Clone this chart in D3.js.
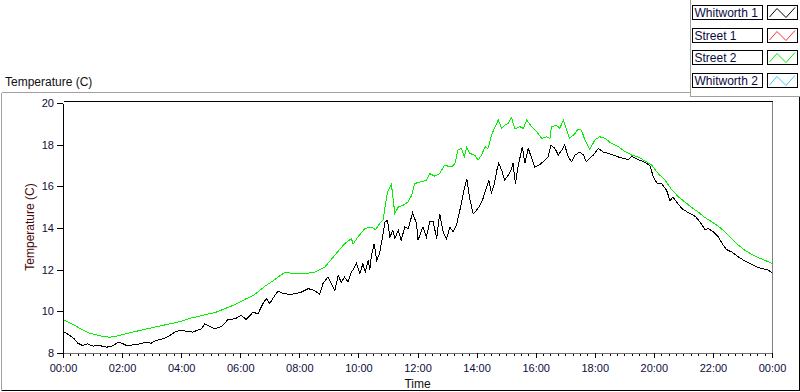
<!DOCTYPE html>
<html>
<head>
<meta charset="utf-8">
<script src="https://cdn.jsdelivr.net/npm/d3@7"></script>
<style>
  html, body { margin: 0; padding: 0; background: #fff; }
  svg { display: block; font-family: "Liberation Sans", Arial, sans-serif; }
</style>
</head>
<body>
<svg id="chart" width="800" height="392"></svg>
<script>
// ---- data (minutes after midnight, temperature in C) ----
const seriesNames = ["Whitworth 1", "Street 1", "Street 2", "Whitworth 2"];
const seriesColors = ["#000000", "#ff3030", "#00f000", "#40c8ff"];

const whitworth1Time = [0,7,17,23,30,40,50,61,74,88,98,105,113,122,132,142,156,169,179,189,203,217,227,237,250,264,274,281,288,298,308,322,335,349,362,372,386,396,406,413,420,430,437,447,464,484,498,511,521,528,538,545,552,559,565,572,579,584,589,596,603,609,614,620,623,626,632,637,643,650,654,659,664,670,674,681,687,694,701,710,718,721,731,738,745,752,759,765,772,779,786,792,799,806,813,820,826,833,840,847,853,858,865,870,876,881,885,891,897,904,910,914,919,924,933,938,945,952,958,969,975,985,991,999,1006,1013,1019,1026,1033,1040,1050,1057,1063,1070,1077,1087,1097,1107,1118,1128,1138,1148,1155,1168,1179,1185,1192,1199,1206,1216,1226,1233,1239,1246,1257,1270,1284,1294,1304,1311,1321,1331,1341,1348,1358,1372,1385,1399,1412,1422,1433,1440];
const whitworth1Temp = [9.00,8.95,8.79,8.68,8.47,8.36,8.44,8.33,8.36,8.28,8.31,8.41,8.52,8.44,8.33,8.39,8.44,8.52,8.47,8.60,8.68,8.84,9.00,9.08,9.05,9.00,9.11,9.16,9.40,9.27,9.16,9.27,9.60,9.64,9.80,9.61,9.96,9.88,10.37,10.61,10.37,10.76,10.97,10.85,10.81,10.92,11.09,11.00,10.81,11.33,11.64,11.33,11.00,11.73,11.40,11.64,11.40,11.80,12.00,12.29,11.81,12.29,11.88,12.45,11.97,12.61,13.25,12.45,12.77,13.73,14.29,14.37,13.57,13.89,13.49,13.89,13.41,14.05,13.97,14.72,14.21,13.41,14.05,13.57,14.29,14.29,13.49,14.69,13.81,13.49,14.05,13.81,14.13,14.85,15.65,16.37,15.41,14.69,14.85,15.09,15.41,15.81,16.30,15.70,16.10,16.77,17.10,16.77,16.29,16.53,16.77,17.10,16.13,16.93,17.90,17.10,17.82,17.34,16.93,17.05,17.18,17.41,17.98,17.82,17.50,17.74,17.98,17.41,17.18,17.50,17.65,17.50,17.18,17.34,17.50,17.82,17.65,17.58,17.50,17.41,17.34,17.28,17.43,17.29,17.18,17.10,17.01,16.45,16.16,16.13,15.81,15.30,15.49,15.25,14.93,14.74,14.56,14.29,13.92,13.97,13.81,13.57,13.17,12.96,12.85,12.61,12.41,12.25,12.10,12.05,11.97,11.84];

const street2Time = [0,20,40,54,81,95,115,135,156,176,196,217,237,257,277,296,308,328,349,369,389,410,430,450,471,491,511,532,552,572,586,589,599,613,626,635,643,650,654,659,667,670,674,681,691,701,708,714,725,738,745,755,765,775,789,796,802,809,815,820,826,836,843,850,857,863,867,870,884,891,897,904,911,918,928,935,942,952,962,972,982,989,992,1002,1009,1016,1023,1029,1040,1046,1053,1060,1070,1080,1090,1101,1114,1128,1141,1155,1168,1182,1196,1209,1223,1236,1250,1263,1277,1290,1304,1318,1331,1345,1358,1372,1385,1399,1412,1426,1440];
const street2Temp = [9.60,9.37,9.11,8.95,8.79,8.76,8.84,8.97,9.08,9.19,9.29,9.40,9.50,9.66,9.77,9.88,9.93,10.12,10.32,10.57,10.80,11.20,11.52,11.87,11.81,11.81,11.88,12.13,12.69,13.25,13.49,13.22,13.57,13.97,14.05,13.92,14.21,14.37,15.01,15.73,16.10,15.49,14.69,15.01,15.09,15.25,15.57,16.13,16.21,16.29,16.61,16.49,16.61,17.01,16.93,17.09,17.74,17.82,17.41,17.87,17.58,17.50,17.26,17.50,17.90,17.82,18.14,18.46,19.18,18.78,18.94,19.02,19.29,18.75,18.86,18.78,19.18,18.86,18.62,18.30,18.38,18.30,18.86,18.94,18.78,19.18,18.70,18.30,18.54,18.75,18.70,18.22,17.77,18.22,18.38,18.30,18.06,17.90,17.68,17.50,17.41,17.22,17.01,16.61,16.29,15.85,15.49,15.25,14.98,14.77,14.50,14.29,14.08,13.81,13.49,13.17,12.93,12.74,12.58,12.45,12.29];

const yTicks = [8, 10, 12, 14, 16, 18, 20];
const xTickMinutes = [0, 120, 240, 360, 480, 600, 720, 840, 960, 1080, 1200, 1320, 1440];
const xTickLabels = ["00:00","02:00","04:00","06:00","08:00","10:00","12:00","14:00","16:00","18:00","20:00","22:00","00:00"];

// ---- drawing ----
const svg = d3.select("#chart");
const x = d3.scaleLinear().domain([0, 1440]).range([63, 772]);
const y = d3.scaleLinear().domain([8, 20]).range([353, 103]);

// outer frame
const frame = svg.append("g").attr("shape-rendering", "crispEdges");
frame.append("line").attr("x1", 1.5).attr("x2", 690.5).attr("y1", 92.5).attr("y2", 92.5).attr("stroke", "#a0a0a0");
frame.append("line").attr("x1", 1.5).attr("x2", 1.5).attr("y1", 92.5).attr("y2", 390.5).attr("stroke", "#a0a0a0");
frame.append("line").attr("x1", 1.5).attr("x2", 799.5).attr("y1", 390.5).attr("y2", 390.5).attr("stroke", "#000");
frame.append("line").attr("x1", 799.5).attr("x2", 799.5).attr("y1", 96.5).attr("y2", 390.5).attr("stroke", "#000");
// legend panel border
frame.append("line").attr("x1", 690.5).attr("x2", 690.5).attr("y1", 0).attr("y2", 96.5).attr("stroke", "#a0a0a0");
frame.append("line").attr("x1", 690.5).attr("x2", 800).attr("y1", 96.5).attr("y2", 96.5).attr("stroke", "#a0a0a0");

// chart title
svg.append("text").attr("x", 5).attr("y", 85.5).attr("font-size", 12).attr("fill", "#101010").text("Temperature (C)");

// plot frame
frame.append("line").attr("x1", 63.5).attr("x2", 772.5).attr("y1", 101.5).attr("y2", 101.5).attr("stroke", "#000");
frame.append("line").attr("x1", 772.5).attr("x2", 772.5).attr("y1", 101.5).attr("y2", 353.5).attr("stroke", "#808080");

// data lines
const line = d3.line().x(d => x(d[0])).y(d => y(d[1]));
const w1 = whitworth1Time.map((t, i) => [t, whitworth1Temp[i]]);
const s2 = street2Time.map((t, i) => [t, street2Temp[i]]);
svg.append("path").datum(w1).attr("d", line).attr("fill", "none")
  .attr("stroke", seriesColors[0]).attr("stroke-width", 1).attr("shape-rendering", "crispEdges");
svg.append("path").datum(s2).attr("d", line).attr("fill", "none")
  .attr("stroke", seriesColors[2]).attr("stroke-width", 1).attr("shape-rendering", "crispEdges");

// x axis: minor ticks
const xAxisG = svg.append("g").attr("transform", "translate(0,353)");
const minor = d3.range(0, 1441, 15).filter(m => m % 120 !== 0);
xAxisG.append("g").call(d3.axisBottom(x).tickValues(minor).tickSize(3).tickFormat(""))
  .call(g => g.select(".domain").remove())
  .call(g => g.selectAll("line").attr("stroke", "#000").attr("shape-rendering", "crispEdges"));
xAxisG.append("g").call(d3.axisBottom(x).tickValues(xTickMinutes).tickSize(5).tickSizeOuter(0)
    .tickFormat((d, i) => xTickLabels[i]).tickPadding(6))
  .call(g => g.select(".domain").attr("stroke", "#707070").attr("shape-rendering", "crispEdges"))
  .call(g => g.selectAll("line").attr("stroke", "#000").attr("shape-rendering", "crispEdges"))
  .call(g => g.selectAll("text").attr("font-size", 11).attr("fill", "#0c0c3a")
      .attr("font-family", "'Liberation Sans', Arial, sans-serif"));
svg.append("text").attr("x", 417.5).attr("y", 388).attr("text-anchor", "middle")
  .attr("font-size", 12).attr("fill", "#101010").text("Time");

// y axis
svg.append("g").attr("transform", "translate(63,0)")
  .call(d3.axisLeft(y).tickValues(yTicks).tickSize(6).tickSizeOuter(0).tickPadding(3).tickFormat(d3.format("d")))
  .call(g => g.select(".domain").attr("stroke", "#000").attr("shape-rendering", "crispEdges"))
  .call(g => g.selectAll("line").attr("stroke", "#000").attr("shape-rendering", "crispEdges"))
  .call(g => g.selectAll("text").attr("font-size", 11).attr("fill", "#0c0c3a")
      .attr("font-family", "'Liberation Sans', Arial, sans-serif"));
svg.append("text").attr("transform", "translate(34,227) rotate(-90)").attr("text-anchor", "middle")
  .attr("font-size", 12).attr("fill", "#4a0808").text("Temperature (C)");

// legend
const rowTops = [5, 28, 50, 73];
const leg = svg.append("g");
seriesNames.forEach((name, i) => {
  const t = rowTops[i];
  leg.append("rect").attr("x", 692.5).attr("y", t + 0.5).attr("width", 70).attr("height", 14)
    .attr("fill", "#fff").attr("stroke", "#000").attr("shape-rendering", "crispEdges");
  leg.append("text").attr("x", 694.5).attr("y", t + 12).attr("font-size", 12).attr("fill", "#0a0a40").text(name);
  leg.append("rect").attr("x", 767.5).attr("y", t + 0.5).attr("width", 30).attr("height", 14)
    .attr("fill", "#fff").attr("stroke", "#000").attr("shape-rendering", "crispEdges");
  leg.append("polyline")
    .attr("points", [[769.5, t + 12], [777, t + 3.5], [786, t + 12.5], [795, t + 2.5]].map(p => p.join(",")).join(" "))
    .attr("fill", "none").attr("stroke", seriesColors[i]).attr("stroke-width", 1);
});
</script>
</body>
</html>
